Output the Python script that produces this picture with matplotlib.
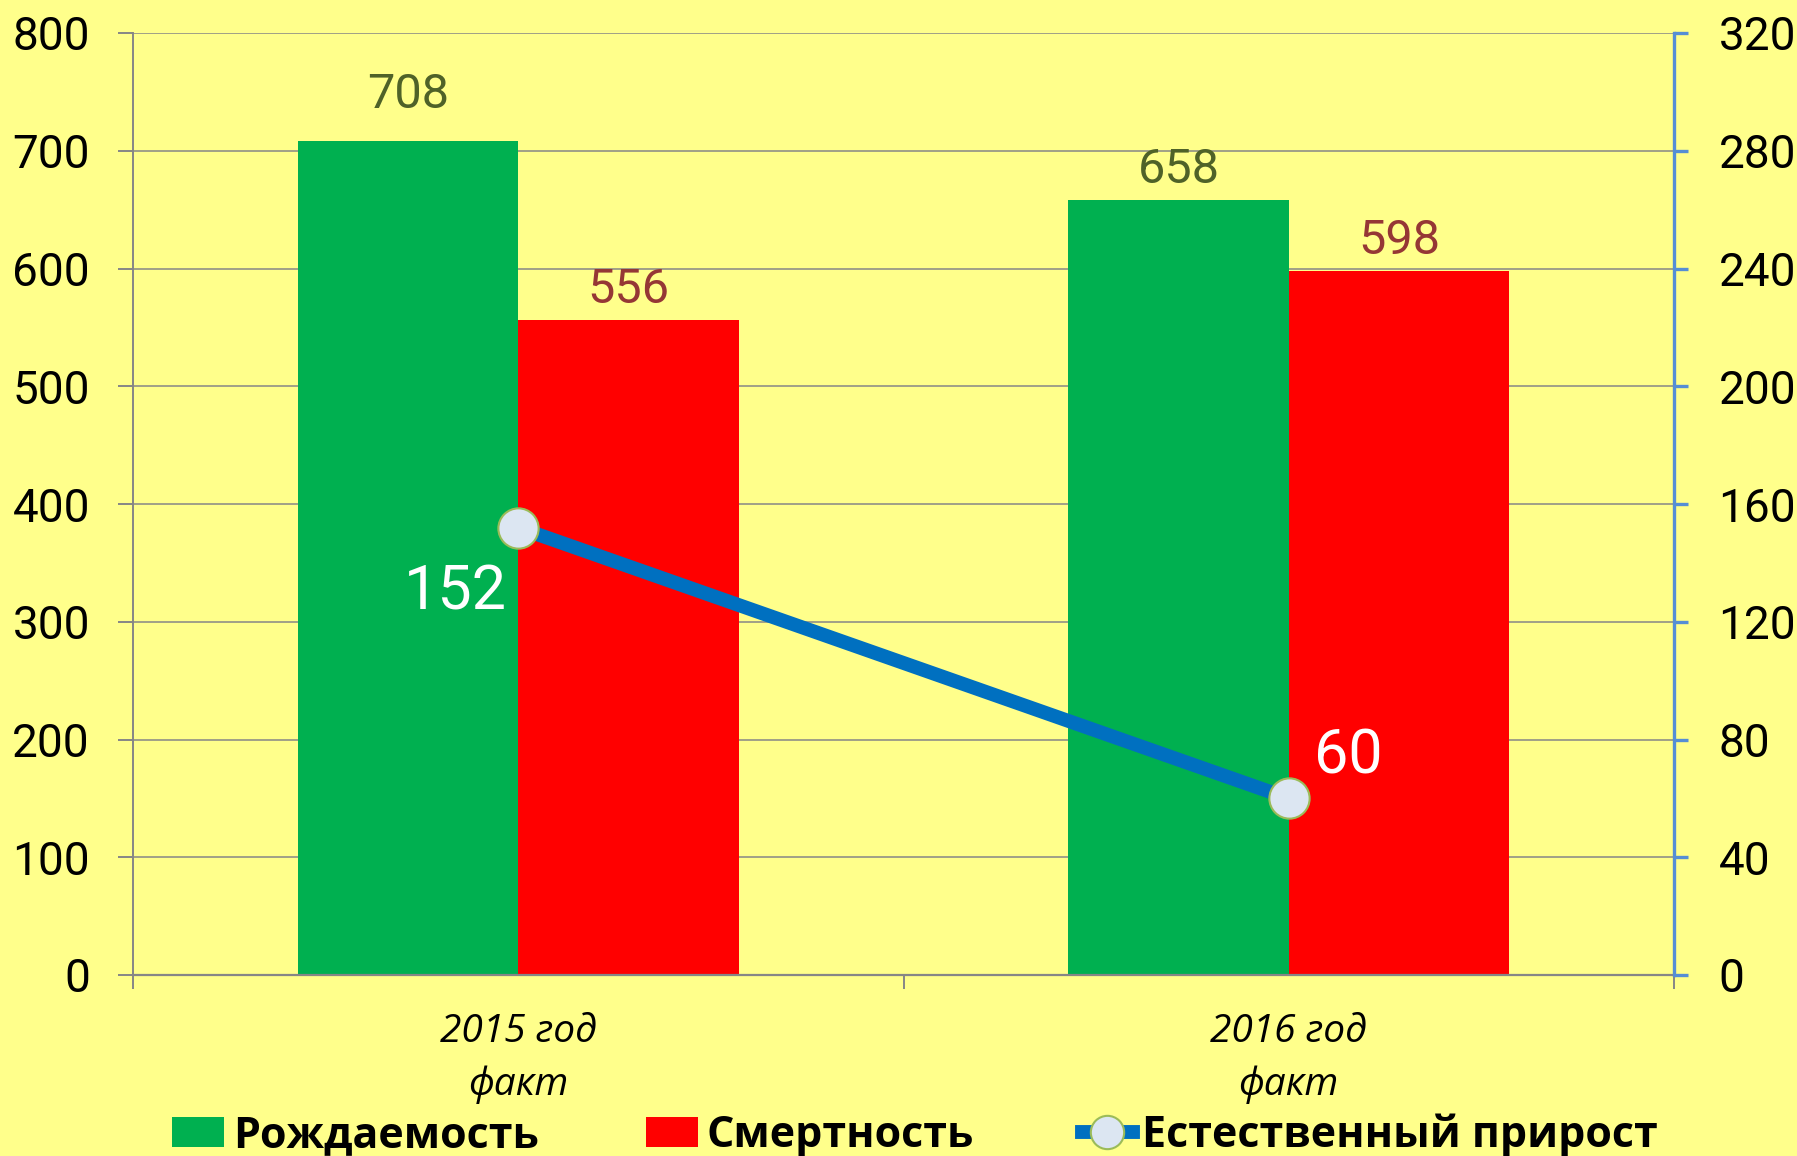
import matplotlib
matplotlib.use("Agg")
import matplotlib.pyplot as plt
from matplotlib.patches import Patch
from matplotlib.lines import Line2D

# data
categories = ["2015 год\nфакт", "2016 год\nфакт"]
births = [708, 658]        # Рождаемость
deaths = [556, 598]        # Смертность
growth = [152, 60]         # Естественный прирост (right axis)
left_ticks = [0, 100, 200, 300, 400, 500, 600, 700, 800]
right_ticks = [0, 40, 80, 120, 160, 200, 240, 280, 320]
series_names = ["Рождаемость", "Смертность", "Естественный прирост"]

bg = "#FFFF8B"
green = "#00B050"
red = "#FF0000"
blue = "#0070C0"
gray = "#868686"
num_font = ["Roboto", "DejaVu Sans"]
txt_font = ["Open Sans", "DejaVu Sans"]

fig = plt.figure(figsize=(17.97, 11.56), dpi=100, facecolor=bg)
ax = fig.add_axes([133 / 1797, 1 - 975 / 1156, 1541 / 1797, 942 / 1156])
ax.set_facecolor(bg)

x = list(range(len(categories)))
w = 0.286
b1 = ax.bar([i - w / 2 for i in x], births, width=w, color=green, zorder=2)
b2 = ax.bar([i + w / 2 for i in x], deaths, width=w, color=red, zorder=2)

ax.set_xlim(-0.5, 1.5)
ax.set_ylim(0, 800)
ax.set_yticks(left_ticks)
ax.yaxis.grid(True, color=gray, lw=1.1)
ax.set_axisbelow(True)
ax.tick_params(axis="y", direction="out", length=11, width=1.4, color=gray,
               labelsize=33, pad=20)
for lab in ax.get_yticklabels():
    lab.set_family(num_font)

ax.set_xticks(x)
ax.set_xticklabels(categories, family=txt_font, style="italic", fontsize=28,
                   linespacing=1.5)
ax.set_xticks([-0.5, 0.5, 1.5], minor=True)
ax.tick_params(axis="x", which="major", length=0, pad=27)
ax.tick_params(axis="x", which="minor", direction="out", length=10, width=1.4,
               color=gray)
for s in ["top", "right"]:
    ax.spines[s].set_visible(False)
ax.spines["left"].set_color(gray)
ax.spines["left"].set_linewidth(1.4)
ax.spines["bottom"].set_color(gray)
ax.spines["bottom"].set_linewidth(1.6)

# bar value labels
bars = list(b1) + list(b2)
vals = births + deaths
colors = ["#4F6228"] * 2 + ["#953735"] * 2
for bar, v, c, off in zip(bars, vals, colors, [17, 5, 5, 5]):
    ax.annotate(str(v), (bar.get_x() + bar.get_width() / 2, v),
                xytext=(0, off), textcoords="offset points",
                ha="center", va="bottom", fontsize=35, color=c,
                family=num_font)

# right axis with the line
ax2 = ax.twinx()
ax2.set_ylim(0, 320)
ax2.set_yticks(right_ticks)
ax2.plot(x, growth, color=blue, lw=10, marker="o", markersize=29,
         markerfacecolor="#DCE6F2", markeredgecolor="#9BBB59",
         markeredgewidth=1.5, solid_capstyle="butt", zorder=5)
for s in ["top", "left", "bottom"]:
    ax2.spines[s].set_visible(False)
ax2.spines["right"].set_color("#558ED5")
ax2.spines["right"].set_linewidth(2.4)
ax2.tick_params(axis="y", direction="out", length=10, width=2.4,
                color="#558ED5", labelsize=33, pad=22)
for lab in ax2.get_yticklabels():
    lab.set_family(num_font)

ax2.annotate(str(growth[0]), (x[0], growth[0]), xytext=(-8, -47),
             textcoords="offset points", ha="right", va="center",
             fontsize=44, color="white", family=num_font, zorder=6)
ax2.annotate(str(growth[1]), (x[1], growth[1]), xytext=(18, 30),
             textcoords="offset points", ha="left", va="center",
             fontsize=44, color="white", family=num_font, zorder=6)

handles = [
    Patch(facecolor=green, label=series_names[0]),
    Patch(facecolor=red, label=series_names[1]),
    Line2D([], [], color=blue, lw=10, marker="o", markersize=24,
           markerfacecolor="#DCE6F2", markeredgecolor="#9BBB59",
           markeredgewidth=1.5, label=series_names[2]),
]
fig.legend(handles=handles, loc="center", ncol=3,
           bbox_to_anchor=(915 / 1797, 1 - 1135 / 1156), frameon=False,
           prop={"family": txt_font, "weight": "bold", "size": 31},
           handlelength=1.2, handleheight=0.7, handletextpad=0.2,
           columnspacing=2.5, borderpad=0)

fig.savefig("out.png", dpi=100, facecolor=bg)
